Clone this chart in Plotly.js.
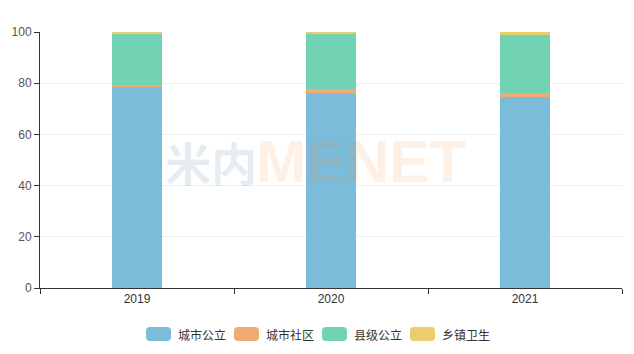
<!DOCTYPE html>
<html><head><meta charset="utf-8">
<script src="https://cdn.plot.ly/plotly-3.0.1.min.js"></script>
<style>html,body{margin:0;padding:0;background:#fff}#chart{width:634px;height:354px}</style>
</head><body><div id="chart"></div>
<script>
const years = ['2019', '2020', '2021'];
const seriesNames = ['城市公立', '城市社区', '县级公立', '乡镇卫生'];
const cityPublic = [78.6, 76.3, 74.6];
const cityCommunity = [0.8, 1.3, 1.6];
const countyPublic = [19.9, 21.7, 22.7];
const townshipHealth = [0.7, 0.7, 1.1];
const colors = ['#7bbcdb', '#eeab72', '#72d3b4', '#ebcd6e'];
const seriesValues = [cityPublic, cityCommunity, countyPublic, townshipHealth];

const L = 40, R = 12, T = 32, B = 66, W = 634, H = 354;
const pw = W - L - R, ph = H - T - B;
const px = x => (x - L) / pw;
const py = y => (H - B - y) / ph;

const traces = seriesNames.map((n, i) => ({
  type: 'bar', name: n, x: years, y: seriesValues[i],
  marker: {color: colors[i], line: {width: 0}},
  width: 0.26, hoverinfo: 'y'
}));

// custom legend
const swatchX = [146, 234, 322, 410];
const shapes = [];
const annotations = [];
function roundRect(x0, y0, x1, y1, r) {
  const P = (x, y) => px(x) + ',' + py(y);
  return 'M' + P(x0 + r, y0) + ' L' + P(x1 - r, y0) + ' Q' + P(x1, y0) + ' ' + P(x1, y0 + r) +
    ' L' + P(x1, y1 - r) + ' Q' + P(x1, y1) + ' ' + P(x1 - r, y1) +
    ' L' + P(x0 + r, y1) + ' Q' + P(x0, y1) + ' ' + P(x0, y1 - r) +
    ' L' + P(x0, y0 + r) + ' Q' + P(x0, y0) + ' ' + P(x0 + r, y0) + ' Z';
}
seriesNames.forEach((n, i) => {
  const x0 = swatchX[i];
  shapes.push({type: 'path', xref: 'paper', yref: 'paper', path: roundRect(x0, 327, x0 + 25, 341, 4),
    fillcolor: colors[i], line: {width: 0}});
  annotations.push({xref: 'paper', yref: 'paper', x: px(x0 + 30), y: py(334), xanchor: 'left', yanchor: 'middle',
    text: n, showarrow: false, font: {size: 12, color: '#333', family: 'Noto Sans CJK SC'}});
});
// watermark
annotations.push({xref: 'paper', yref: 'paper', x: px(211), y: py(161), xanchor: 'center', yanchor: 'middle',
  text: '<b>米内</b>', showarrow: false, font: {size: 46, color: 'rgba(90,145,180,0.16)', family: 'Noto Sans CJK SC'}});
annotations.push({xref: 'paper', yref: 'paper', x: px(361), y: py(161), xanchor: 'center', yanchor: 'middle',
  text: '<b>MENET</b>', showarrow: false, font: {size: 60, color: 'rgba(245,135,40,0.12)', family: 'Liberation Sans'}});

const layout = {
  width: W, height: H, margin: {l: L, r: R, t: T, b: B},
  barmode: 'stack', showlegend: false,
  paper_bgcolor: '#fff', plot_bgcolor: '#fff',
  font: {family: 'Liberation Sans, Arial, sans-serif', size: 12, color: '#555'},
  xaxis: {type: 'category', showline: true, linecolor: '#333', linewidth: 1, ticks: 'outside', ticklen: 5,
    tickcolor: '#333', tickson: 'boundaries', showgrid: false, tickfont: {color: '#333', size: 12}, fixedrange: true},
  yaxis: {range: [0, 100], dtick: 20, showline: true, linecolor: '#333', linewidth: 1, ticks: 'outside', ticklen: 5,
    tickcolor: '#333', gridcolor: '#eeeeee', zeroline: false, tickfont: {color: '#555', size: 12}, fixedrange: true},
  shapes: shapes, annotations: annotations
};
Plotly.newPlot('chart', traces, layout, {displayModeBar: false, staticPlot: true});
</script></body></html>
